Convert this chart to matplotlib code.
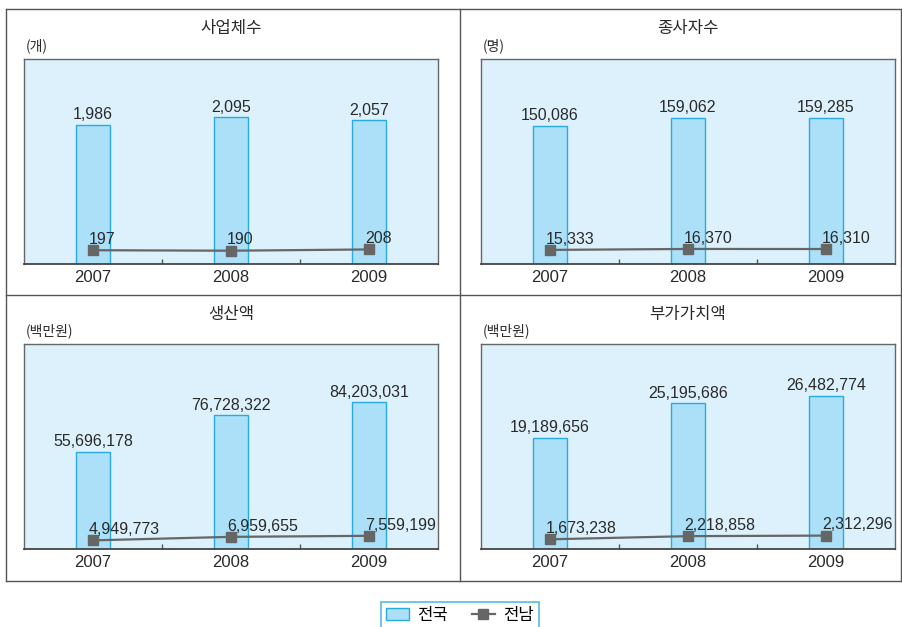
import matplotlib
matplotlib.use("Agg")
import matplotlib.pyplot as plt
from matplotlib.patches import Patch
from matplotlib.lines import Line2D

years = ["2007", "2008", "2009"]
titles = ["사업체수", "종사자수", "생산액", "부가가치액"]
units = ["(개)", "(명)", "(백만원)", "(백만원)"]
nation = [[1986, 2095, 2057],
          [150086, 159062, 159285],
          [55696178, 76728322, 84203031],
          [19189656, 25195686, 26482774]]
jeonnam = [[197, 190, 208],
           [15333, 16370, 16310],
           [4949773, 6959655, 7559199],
           [1673238, 2218858, 2312296]]
ymax = [2930, 223000, 117500000, 35400000]

KR = "Noto Sans CJK KR"
plt.rcParams["font.family"] = ["Liberation Sans", KR, "DejaVu Sans"]

BG = "#dcf1fb"; BAR = "#abe0f8"; EDGE = "#29abe2"; GRAY = "#666666"; FRAME = "#555555"; TXT = "#2a2a2a"
W, H = 902, 627
fig = plt.figure(figsize=(W / 100, H / 100), dpi=100)

def fx(px): return px / W
def fy(py): return 1 - py / H

# outer frame and dividers
for xs, ys in [([6, 901], [9, 9]), ([6, 901], [581, 581]), ([6, 6], [9, 581]), ([901, 901], [9, 581]),
               ([460, 460], [9, 581]), ([6, 901], [295, 295])]:
    fig.add_artist(Line2D([fx(x) for x in xs], [fy(y) for y in ys], color=FRAME, lw=1.0))

boxes = [(24, 59), (481, 59), (24, 344), (481, 344)]
for i, (x0, y0) in enumerate(boxes):
    ax = fig.add_axes([fx(x0), fy(y0 + 205), 414 / W, 205 / H])
    ax.set_facecolor(BG)
    xs = range(len(years))
    ax.bar(xs, nation[i], width=0.25, color=BAR, edgecolor=EDGE, linewidth=1.0, zorder=2)
    ax.plot(xs, jeonnam[i], color=GRAY, lw=1.6, marker="s", ms=7.5, mfc=GRAY, mec=GRAY, zorder=3)
    for x, v in zip(xs, nation[i]):
        ax.annotate(f"{v:,}", (x, v), xytext=(0, 4), textcoords="offset points",
                    ha="center", va="baseline", fontsize=11.5, color=TXT)
    for x, v in zip(xs, jeonnam[i]):
        ax.annotate(f"{v:,}", (x, v), xytext=(-3, 4.5), textcoords="offset points",
                    ha="left", va="baseline", fontsize=11.5, color=TXT, zorder=4)
    ax.set_xlim(-0.5, 2.5)
    ax.set_ylim(0, ymax[i])
    ax.set_yticks([])
    ax.set_xticks(list(xs))
    ax.set_xticklabels(years, fontsize=12, color=TXT)
    ax.tick_params(axis="x", length=0, pad=4)
    ax.set_xticks([0.5, 1.5], minor=True)
    ax.tick_params(axis="x", which="minor", direction="in", length=3.5, color=FRAME, width=1)
    for s in ["left", "top", "right"]:
        ax.spines[s].set_color(GRAY); ax.spines[s].set_linewidth(1.0)
    ax.spines["bottom"].set_color("#444444"); ax.spines["bottom"].set_linewidth(1.3)
    fig.text(fx(x0 + 207), fy(y0 - 30), titles[i], ha="center", va="center", fontsize=12,
             family=[KR, "DejaVu Sans"], color=TXT)
    fig.text(fx(x0 + 2), fy(y0 - 13), units[i], ha="left", va="center", fontsize=10,
             family=[KR, "DejaVu Sans"], color=TXT)

handles = [Patch(facecolor=BAR, edgecolor=EDGE, linewidth=1.0),
           Line2D([], [], color=GRAY, lw=1.6, marker="s", ms=7.5)]
leg = fig.legend(handles, ["전국", "전남"], ncol=2, loc="upper center",
                 bbox_to_anchor=(fx(460), fy(602)), borderaxespad=0, frameon=True,
                 fancybox=False, edgecolor=EDGE, prop={"family": [KR], "size": 12},
                 handlelength=1.4, columnspacing=1.4, handletextpad=0.5, borderpad=0.3)
leg.get_frame().set_linewidth(1.2)

fig.savefig("out.png", dpi=100)
